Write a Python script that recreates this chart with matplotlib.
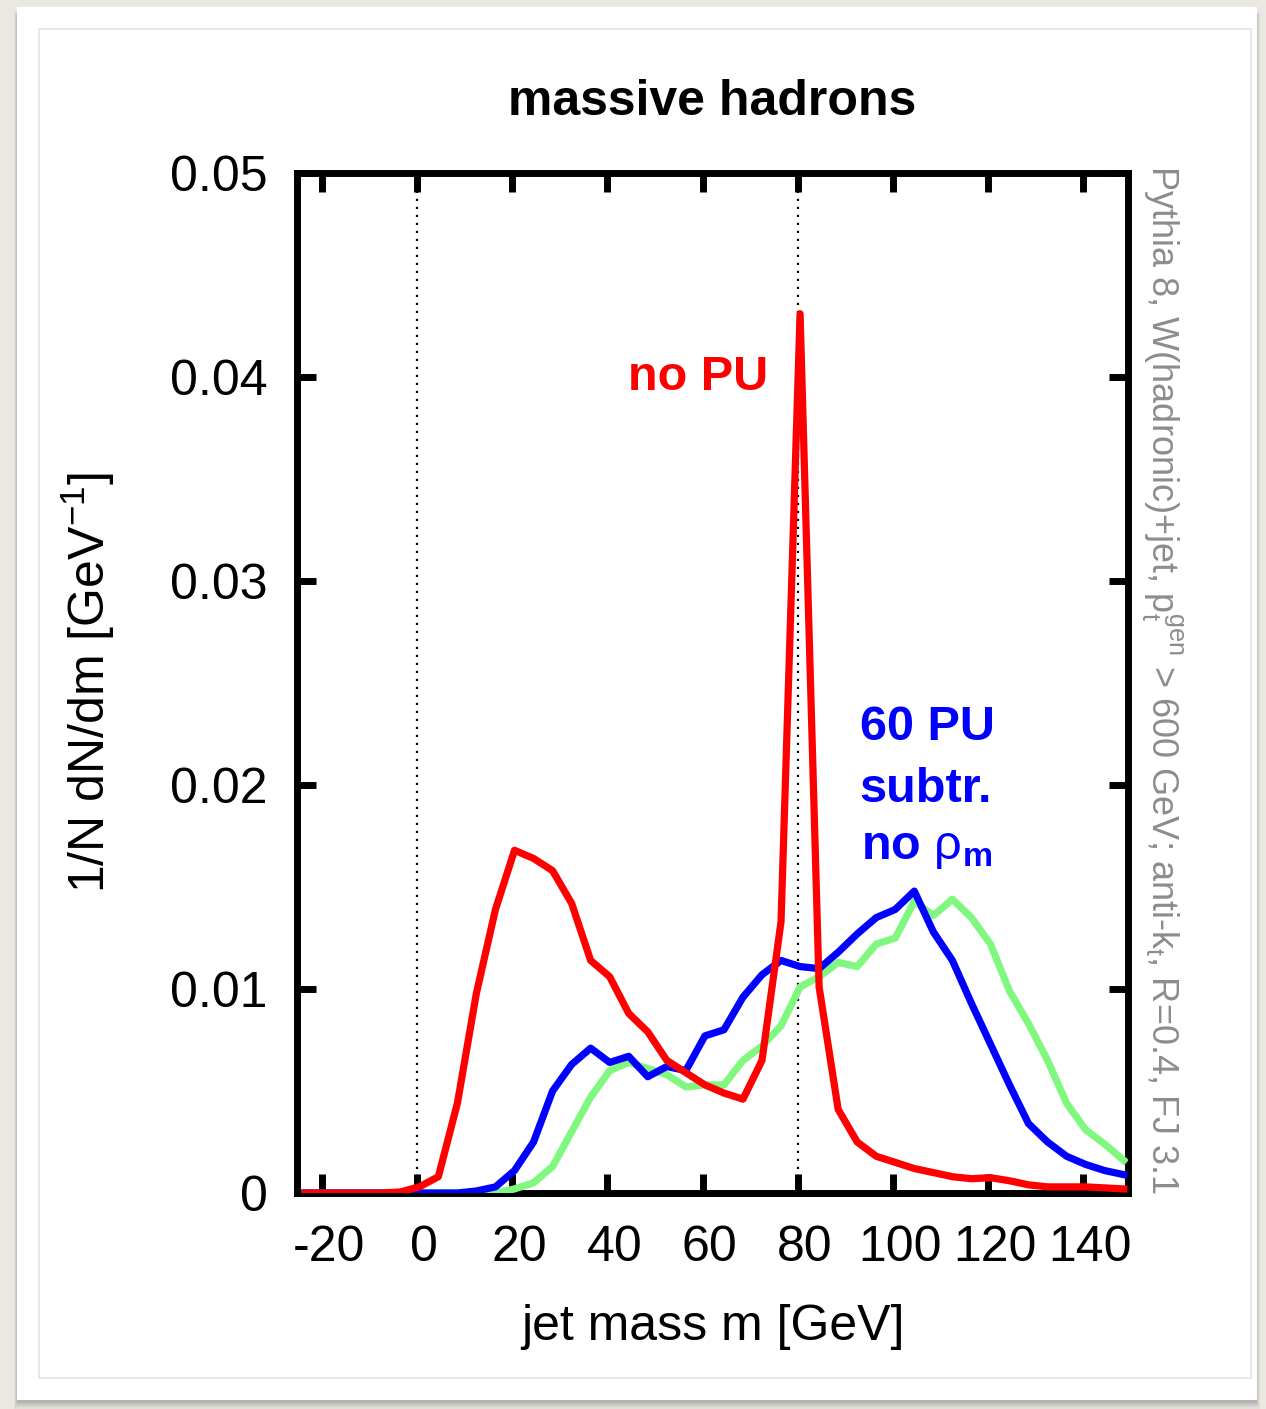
import numpy as np
import matplotlib
matplotlib.use('Agg')
import matplotlib.pyplot as plt
from matplotlib.patches import Rectangle
from matplotlib.ticker import FixedLocator, FuncFormatter
from matplotlib.transforms import ScaledTranslation

plt.rcParams['font.family'] = ['Liberation Sans', 'DejaVu Sans']
plt.rcParams['mathtext.fontset'] = 'custom'
plt.rcParams['mathtext.rm'] = 'Liberation Sans'
plt.rcParams['mathtext.it'] = 'Liberation Sans:italic'
plt.rcParams['mathtext.bf'] = 'Liberation Sans:bold'
plt.rcParams['axes.unicode_minus'] = False

# bin centres (GeV)
mass = np.arange(-23.5, 149, 4.0)

# no PU
noPU = [0, 0, 0, 0, 0, 0.00005,
        0.0003, 0.0008, 0.0044, 0.0098, 0.0139, 0.0168, 0.0164, 0.0158,
        0.0142, 0.0114, 0.0106, 0.0088, 0.0079, 0.0065, 0.0059, 0.0053,
        0.0049, 0.0046, 0.0065, 0.0133, 0.0431, 0.0101, 0.0041, 0.0025,
        0.0018, 0.0015, 0.0012, 0.0010, 0.0008, 0.0007, 0.00075, 0.0006,
        0.0004, 0.0003, 0.0003, 0.0003, 0.00025, 0.0002]

# 60 PU subtracted, no rho_m
subtr = [0, 0, 0, 0, 0, 0,
         0, 0, 0, 0.0001, 0.0003, 0.0011, 0.0025, 0.0050,
         0.0063, 0.0071, 0.0064, 0.0067, 0.0057, 0.0062, 0.0060, 0.0077,
         0.0080, 0.0096, 0.0107, 0.0114, 0.0111, 0.0110, 0.0118, 0.0127,
         0.0135, 0.0139, 0.0148, 0.0128, 0.0114, 0.0093, 0.0073, 0.0053,
         0.0034, 0.0025, 0.0018, 0.0014, 0.0011, 0.0009]

# 60 PU subtracted, with rho_m (green)
subtrRhom = [0, 0, 0, 0, 0, 0,
             0, 0, 0, 0, 0, 0.0002, 0.0005, 0.0013,
             0.0030, 0.0047, 0.0060, 0.0064, 0.0061, 0.0058, 0.0052, 0.0053,
             0.0053, 0.0065, 0.0072, 0.0082, 0.0101, 0.0106, 0.0113, 0.0111,
             0.0122, 0.0125, 0.0143, 0.0136, 0.0144, 0.0135, 0.0122, 0.0099,
             0.0083, 0.0065, 0.0044, 0.0031, 0.0024, 0.0016]

xticks = [-20, 0, 20, 40, 60, 80, 100, 120, 140]
yticks = [0, 0.01, 0.02, 0.03, 0.04, 0.05]

W, H = 1266, 1409
fig = plt.figure(figsize=(W / 100, H / 100), dpi=100)
fig.patch.set_facecolor('#ebe8e1')

def box(x0, y0, x1, y1, **kw):
    # rectangle given in pixel coords (top-left origin), drawn behind the axes
    fig.patches.append(Rectangle((x0 / W, 1 - y1 / H), (x1 - x0) / W, (y1 - y0) / H,
                                 transform=fig.transFigure, zorder=-10, **kw))

# card with soft shadow (mostly below)
for i, a in enumerate([0.08, 0.10, 0.14, 0.18]):
    box(14 + i, 12 + i, 1260 - i, 1409 - 2 * i, facecolor='#707070', alpha=a, linewidth=0)
box(17, 7, 1257, 1400, facecolor='white', linewidth=0)
box(39, 29, 1251, 1378, facecolor='none', edgecolor='#e4e4e4', linewidth=1.2)

ax = fig.add_axes([297 / W, 1 - 1193 / H, (1128 - 297) / W, (1193 - 173) / H])
ax.set_facecolor('white')

ax.plot(mass, subtrRhom, color='#80f880', lw=5.2, zorder=3)
ax.plot(mass, subtr, color='#0000ff', lw=5.2, zorder=4)
ax.plot(mass, noPU, color='#ff0000', lw=5.2, zorder=5)

ax.axvline(0, color='black', lw=1.6, ls=(0, (1, 2.6)), zorder=2)
ax.axvline(80, color='black', lw=1.6, ls=(0, (1, 2.6)), zorder=2)

ax.set_xlim(-25.2, 149.4)
ax.set_ylim(0, 0.05)
ax.xaxis.set_major_locator(FixedLocator(xticks))
ax.yaxis.set_major_locator(FixedLocator(yticks))
ax.yaxis.set_major_formatter(FuncFormatter(lambda v, p: '0' if v == 0 else '%.2f' % v))

for s in ax.spines.values():
    s.set_linewidth(5)
ax.tick_params(direction='in', length=14, width=5, labelsize=36,
               top=True, right=True)
ax.tick_params(axis='x', pad=23)
ax.tick_params(axis='y', pad=21)

# gnuplot-style: x tick labels sit slightly right of their ticks
shift = ScaledTranslation(5 / 72, 0, fig.dpi_scale_trans)
for lab in ax.get_xticklabels():
    lab.set_transform(lab.get_transform() + shift)

ax.set_xlabel('jet mass m [GeV]', fontsize=36, labelpad=24)
ax.set_ylabel(r'1/N dN/dm [GeV$^{\mathregular{-1}}$]', fontsize=36, labelpad=38)
ax.set_title('massive hadrons', fontsize=36, fontweight='bold', pad=42)

ax.text(44.3, 0.040, 'no PU', color='#ff0000', fontsize=35, fontweight='bold',
        ha='left', va='center')
ax.text(93.0, 0.0228, '60 PU', color='#0000ff', fontsize=35, fontweight='bold',
        ha='left', va='center')
ax.text(93.0, 0.0198, 'subtr.', color='#0000ff', fontsize=35, fontweight='bold',
        ha='left', va='center')
ax.text(93.3, 0.0169, r'no $\mathrm{\rho}_{\mathbf{m}}$', color='#0000ff', fontsize=35,
        fontweight='bold', ha='left', va='center')

fig.text(1162 / W, 1 - 680 / H,
         r'Pythia 8, W(hadronic)+jet, p$\mathregular{_t^{gen}}$ > 600 GeV; anti-k$\mathregular{_t}$, R=0.4, FJ 3.1',
         rotation=-90, ha='center', va='center', fontsize=26, color='#8c8c8c',
         family=['Liberation Sans Narrow', 'Liberation Sans'])

fig.savefig('out.png', dpi=100, facecolor=fig.get_facecolor())
